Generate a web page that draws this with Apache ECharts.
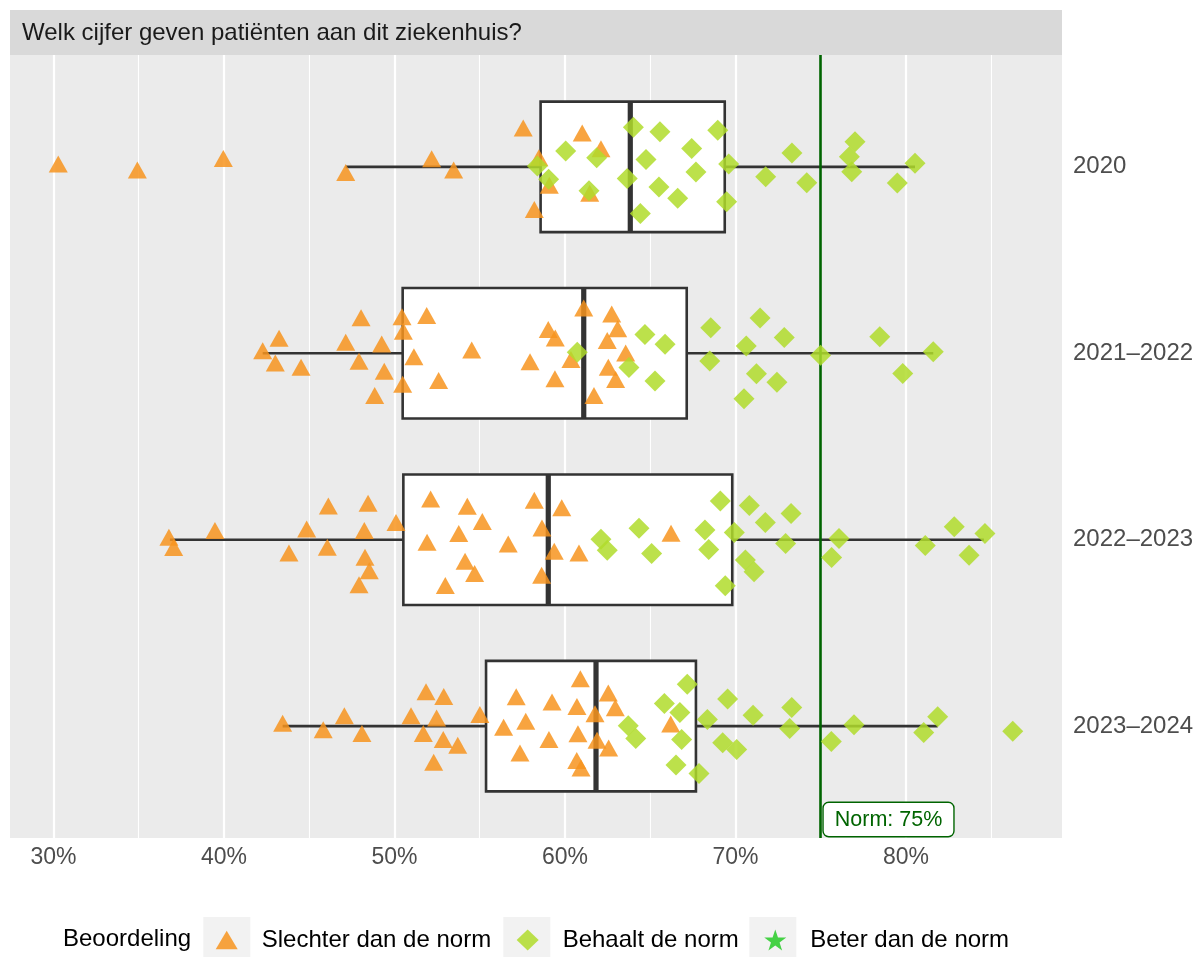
<!DOCTYPE html>
<html>
<head>
<meta charset="utf-8">
<script src="https://cdn.jsdelivr.net/npm/echarts@6/dist/echarts.min.js"></script>
<style>
html,body{margin:0;padding:0;background:#ffffff;}
#chart{width:1201px;height:957px;}
</style>
</head>
<body>
<div id="chart"></div>
<script>
// ---------- data ----------
const TITLE = 'Welk cijfer geven patiënten aan dit ziekenhuis?';
const CATEGORIES = ['2020', '2021–2022', '2022–2023', '2023–2024'];
const X_TICKS = [30, 40, 50, 60, 70, 80];
const X_MINOR = [35, 45, 55, 65, 75, 85];
const NORM = 75;
const LEGEND_TITLE = 'Beoordeling';
const GROUPS = ['Slechter dan de norm', 'Behaalt de norm', 'Beter dan de norm'];

// box statistics per category (percent)
const boxLow  = [47.14, 42.27, 36.83, 43.44];
const boxQ1   = [58.57, 50.48, 50.52, 55.37];
const boxMed  = [63.83, 61.10, 59.02, 61.82];
const boxQ3   = [69.37, 67.14, 69.81, 67.68];
const boxHigh = [80.53, 81.60, 84.57, 81.86];

// points: [score %, vertical jitter in category units]
const slechter2020 = [[30.28,0.015],[34.92,-0.017],[39.96,0.045],[47.14,-0.03],[52.18,0.043],[53.47,-0.017],[57.55,0.208],[58.47,0.049],[59.08,-0.098],[58.2,-0.229],[61.01,0.182],[62.11,0.097],[61.45,-0.142]];
const behaalt2020 = [[60.04,0.085],[61.86,0.049],[58.38,0.004],[59.04,-0.067],[61.41,-0.128],[64.01,0.212],[65.57,0.188],[64.75,0.04],[63.65,-0.062],[65.51,-0.108],[67.43,0.099],[67.68,-0.028],[66.61,-0.169],[64.42,-0.25],[68.96,0.197],[69.6,0.015],[69.48,-0.187],[71.77,-0.053],[73.31,0.074],[74.18,-0.085],[77.01,0.135],[76.68,0.054],[76.82,-0.026],[79.49,-0.087],[80.53,0.019]];

const slechter2122 = [[42.27,0.014],[43.23,0.08],[43.01,-0.052],[44.52,-0.075],[48.04,0.19],[47.14,0.059],[47.92,-0.043],[49.25,0.05],[49.40,-0.097],[48.84,-0.226],[50.44,0.196],[50.52,0.118],[51.14,-0.019],[50.48,-0.166],[51.89,0.203],[52.59,-0.146],[54.53,0.017],[57.95,-0.046],[59.02,0.127],[59.43,0.082],[59.41,-0.137],[60.35,-0.034],[61.1,0.243],[62.74,0.211],[63.09,0.131],[62.48,0.069],[63.56,0.001],[62.54,-0.075],[62.97,-0.141],[61.70,-0.226]];
const behaalt2122 = [[60.72,0.006],[64.69,0.101],[65.87,0.048],[63.75,-0.076],[65.28,-0.149],[68.55,0.137],[68.49,-0.042],[71.44,0.189],[70.63,0.039],[72.86,0.085],[71.23,-0.11],[72.43,-0.156],[70.5,-0.244],[74.99,-0.01],[78.46,0.089],[79.81,-0.108],[81.6,0.008]];

const slechter2223 = [[36.77,0.013],[37.05,-0.042],[39.47,0.05],[43.81,-0.071],[44.85,0.058],[46.12,0.181],[46.06,-0.041],[48.45,0.195],[48.23,0.05],[48.27,-0.094],[48.52,-0.167],[47.92,-0.241],[50.09,0.093],[52.12,0.219],[51.91,-0.014],[54.27,0.179],[55.15,0.098],[53.77,0.034],[54.14,-0.116],[54.70,-0.181],[52.98,-0.246],[56.67,-0.023],[58.2,0.212],[58.65,0.063],[58.63,-0.19],[59.37,-0.062],[59.81,0.171],[60.82,-0.071],[66.22,0.035]];
const behaalt2223 = [[62.11,0.003],[62.48,-0.056],[64.34,0.061],[65.08,-0.074],[69.11,0.207],[68.21,0.052],[68.43,-0.052],[69.93,0.039],[70.81,0.184],[71.75,0.093],[73.26,0.141],[72.94,-0.02],[70.58,-0.109],[71.09,-0.172],[69.40,-0.247],[76.07,0.007],[75.64,-0.095],[81.13,-0.031],[82.83,0.069],[83.70,-0.084],[84.63,0.034]];

const slechter2324 = [[43.44,0.016],[45.82,-0.02],[47.06,0.056],[48.09,-0.039],[50.97,0.056],[51.85,0.184],[52.89,0.159],[52.47,0.044],[51.69,-0.039],[52.86,-0.072],[53.71,-0.102],[52.3,-0.194],[55.01,0.062],[56.40,-0.006],[57.14,0.158],[57.7,0.026],[57.36,-0.144],[59.24,0.13],[59.06,-0.072],[60.9,0.254],[60.7,0.105],[60.76,-0.041],[60.69,-0.184],[60.94,-0.224],[61.76,0.066],[61.88,-0.075],[62.54,0.178],[62.95,0.098],[62.56,-0.117],[66.2,0.012]];
const behaalt2324 = [[63.71,0.002],[64.15,-0.066],[65.83,0.122],[66.74,0.073],[67.17,0.225],[66.84,-0.071],[66.51,-0.209],[67.86,-0.254],[68.35,0.036],[69.54,0.145],[69.25,-0.089],[70.07,-0.125],[71.03,0.059],[73.30,0.1],[73.18,-0.012],[75.62,-0.082],[76.95,0.007],[81.04,-0.034],[81.86,0.05],[86.26,-0.027]];

const beter2020 = [], beter2122 = [], beter2223 = [], beter2324 = [];

// ---------- layout / style ----------
const FONT = "'Liberation Sans', Arial, Helvetica, sans-serif";
const X_MIN = 27.45, X_MAX = 89.15;
const Y_MIN = 0.4, Y_MAX = 4.6;
const BOX_WIDTH = 0.7;
const STAR = 'path://M50,0 L61.8,35.1 98.1,35.1 68.8,56.7 79.9,91.6 50,70.1 20.1,91.6 31.2,56.7 1.9,35.1 38.2,35.1 Z';
const TRI_ICON = 'path://M10,0 L20,17 L0,17 Z';

const catPos = i => CATEGORIES.length - i;   // 2020 at the top
const slechterByCat = [slechter2020, slechter2122, slechter2223, slechter2324];
const behaaltByCat = [behaalt2020, behaalt2122, behaalt2223, behaalt2324];
const beterByCat = [beter2020, beter2122, beter2223, beter2324];
const toPoints = byCat => byCat.flatMap((arr, i) => arr.map(p => [p[0], catPos(i) + p[1]]));

const boxData = CATEGORIES.map((c, i) => [catPos(i), boxLow[i], boxQ1[i], boxMed[i], boxQ3[i], boxHigh[i]]);

const chart = echarts.init(document.getElementById('chart'), null, {renderer: 'canvas'});

const option = {
  animation: false,
  backgroundColor: '#ffffff',
  textStyle: {fontFamily: FONT},
  grid: {
    left: 10, right: 139, top: 55, bottom: 119,
    show: true, backgroundColor: '#ebebeb', borderWidth: 0,
    containLabel: false, outerBoundsMode: 'none'
  },
  xAxis: [{
    type: 'value', min: X_MIN, max: X_MAX,
    axisLine: {show: false},
    axisTick: {show: false, customValues: X_TICKS},
    axisLabel: {customValues: X_TICKS, formatter: v => v + '%', color: '#4d4d4d', fontSize: 23, margin: 8, fontFamily: FONT},
    splitLine: {show: true, lineStyle: {color: '#ffffff', width: 2.2}}
  }, {
    type: 'value', min: X_MIN, max: X_MAX, position: 'bottom',
    axisLine: {show: false},
    axisTick: {show: false, customValues: X_MINOR},
    axisLabel: {show: false},
    splitLine: {show: true, lineStyle: {color: '#ffffff', width: 1.1}}
  }],
  yAxis: {
    type: 'value', min: Y_MIN, max: Y_MAX, position: 'right',
    axisLine: {show: false},
    axisTick: {show: false, customValues: CATEGORIES.map((c, i) => catPos(i))},
    axisLabel: {
      customValues: CATEGORIES.map((c, i) => catPos(i)),
      formatter: v => CATEGORIES[CATEGORIES.length - Math.round(v)],
      color: '#4d4d4d', fontSize: 24, margin: 11, align: 'left', fontFamily: FONT
    },
    splitLine: {show: false}
  },
  legend: {
    data: [{name: GROUPS[0], icon: TRI_ICON}, GROUPS[1], {name: GROUPS[2], icon: STAR}],
    left: 215.7, top: 928, padding: 0,
    itemWidth: 22, itemHeight: 21, itemGap: 25.5,
    selectedMode: false,
    textStyle: {fontSize: 24, color: '#000000', padding: [0, 0, 0, 19], fontFamily: FONT}
  },
  graphic: [
    {type: 'rect', shape: {x: 10, y: 10, width: 1052, height: 45}, style: {fill: '#d9d9d9'}, z: 0, silent: true},
    {type: 'text', x: 22, y: 33, style: {text: TITLE, fill: '#1a1a1a', font: '24px ' + FONT, verticalAlign: 'middle', align: 'left'}, z: 1, silent: true},
    {type: 'text', x: 63, y: 939, style: {text: LEGEND_TITLE, fill: '#000000', font: '24px ' + FONT, verticalAlign: 'middle', align: 'left'}, z: 1, silent: true},
    {type: 'rect', shape: {x: 203.3, y: 917, width: 47, height: 47}, style: {fill: '#f2f2f2'}, z: -1, silent: true},
    {type: 'rect', shape: {x: 503.3, y: 917, width: 47, height: 47}, style: {fill: '#f2f2f2'}, z: -1, silent: true},
    {type: 'rect', shape: {x: 749.3, y: 917, width: 47, height: 47}, style: {fill: '#f2f2f2'}, z: -1, silent: true}
  ],
  series: [
    {
      name: 'boxes', type: 'custom', z: 1,
      data: boxData,
      encode: {x: [1, 2, 3, 4, 5], y: 0},
      renderItem: function (params, api) {
        const y = api.value(0);
        const pLow = api.coord([api.value(1), y]);
        const pQ1 = api.coord([api.value(2), y]);
        const pMed = api.coord([api.value(3), y]);
        const pQ3 = api.coord([api.value(4), y]);
        const pHigh = api.coord([api.value(5), y]);
        const h = Math.abs(api.size([0, BOX_WIDTH])[1]);
        const top = pQ1[1] - h / 2;
        const st = {stroke: '#333333', lineWidth: 2.6, fill: null};
        return {
          type: 'group',
          children: [
            {type: 'line', shape: {x1: pLow[0], y1: pLow[1], x2: pQ1[0], y2: pQ1[1]}, style: st},
            {type: 'line', shape: {x1: pQ3[0], y1: pQ3[1], x2: pHigh[0], y2: pHigh[1]}, style: st},
            {type: 'rect', shape: {x: pQ1[0], y: top, width: pQ3[0] - pQ1[0], height: h}, style: {fill: '#ffffff', stroke: '#333333', lineWidth: 2.6}},
            {type: 'line', shape: {x1: pMed[0], y1: top, x2: pMed[0], y2: top + h}, style: {stroke: '#333333', lineWidth: 5.2}}
          ]
        };
      },
      markLine: {
        silent: true, symbol: 'none', z: 3,
        data: [{xAxis: NORM}],
        lineStyle: {color: '#006400', width: 2.6, type: 'solid'},
        label: {show: false}
      },
      markPoint: {
        silent: true, z: 6,
        data: [{coord: [NORM, Y_MIN], symbol: 'rect', symbolSize: 0}],
        label: {
          show: true, position: [3, -35],
          formatter: 'Norm: ' + NORM + '%',
          color: '#006400', fontSize: 21.5, fontFamily: FONT, lineHeight: 26,
          backgroundColor: '#ffffff', borderColor: '#006400', borderWidth: 1.4, borderRadius: 5,
          padding: [4, 11, 3, 11]
        }
      }
    },
    {
      name: GROUPS[0], type: 'scatter', z: 4,
      symbol: 'triangle', symbolSize: [19, 17],
      itemStyle: {color: '#f7941e', opacity: 0.85},
      data: toPoints(slechterByCat)
    },
    {
      name: GROUPS[1], type: 'scatter', z: 4,
      symbol: 'diamond', symbolSize: 21,
      itemStyle: {color: '#b0dc2c', opacity: 0.85},
      data: toPoints(behaaltByCat)
    },
    {
      name: GROUPS[2], type: 'scatter', z: 4,
      symbol: STAR, symbolSize: 24,
      itemStyle: {color: '#32cd32', opacity: 0.9},
      data: toPoints(beterByCat)
    }
  ]
};

chart.setOption(option);
</script>
</body>
</html>
